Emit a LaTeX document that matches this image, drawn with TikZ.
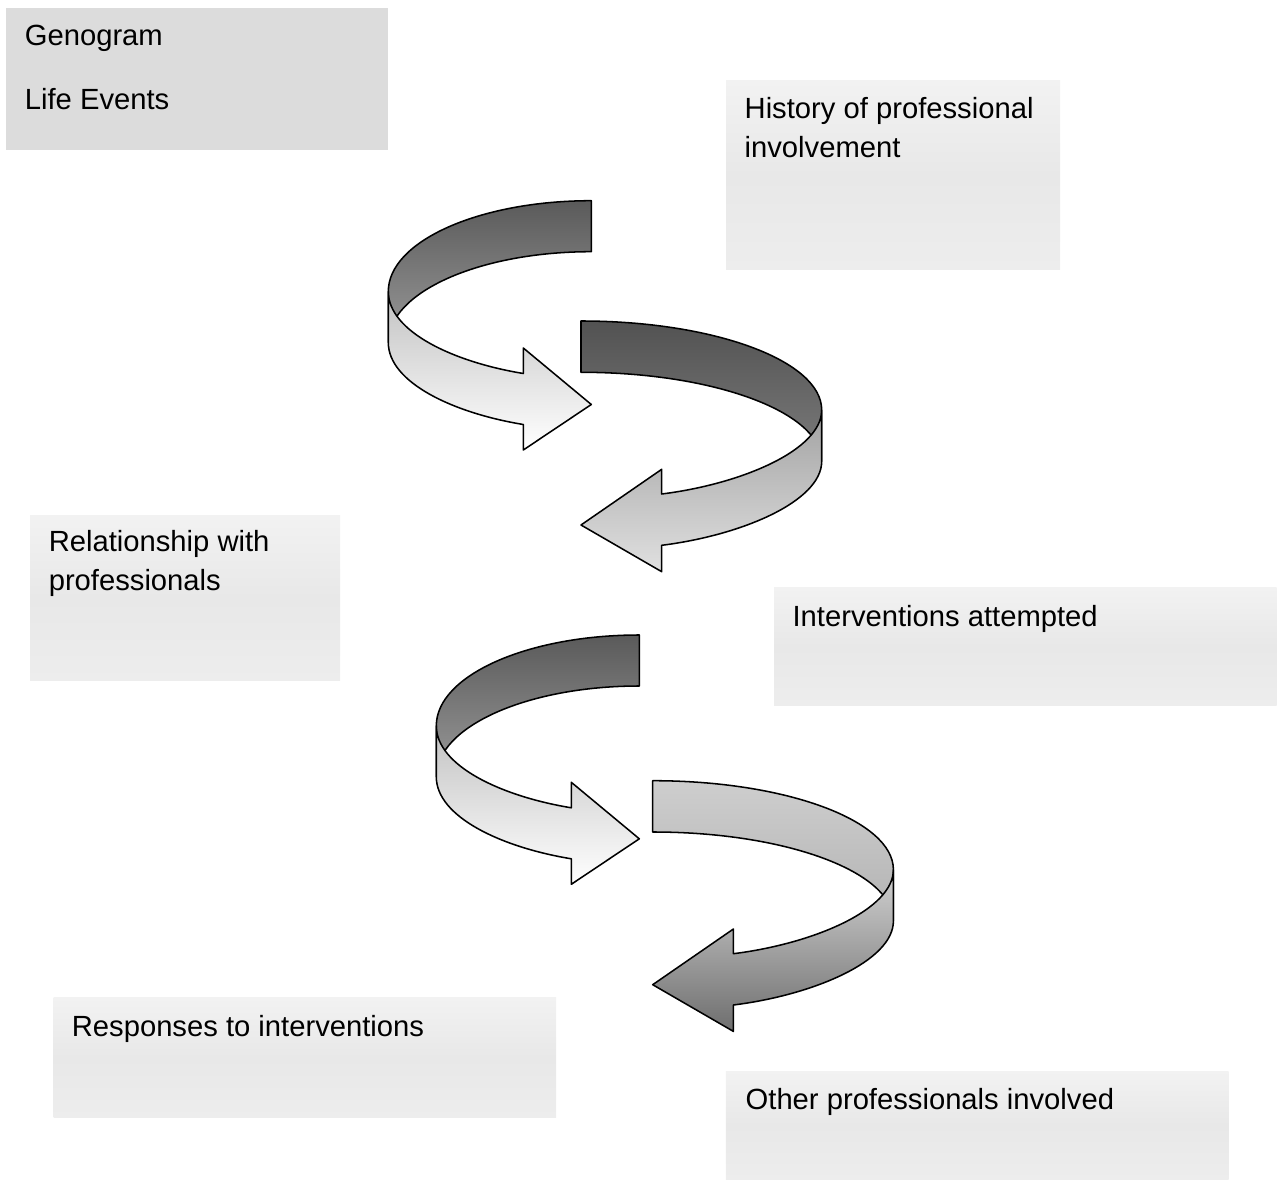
\documentclass[tikz,border=0pt]{standalone}
\usepackage{fontspec}
\setmainfont{Liberation Sans}
\usetikzlibrary{fit}
\definecolor{boxtop}{HTML}{F2F2F2}
\definecolor{boxmid}{HTML}{E8E8E8}
\definecolor{boxbot}{HTML}{EDEDED}
\definecolor{genofill}{HTML}{DCDCDC}
\definecolor{aBackTop}{HTML}{5A5A5A}
\definecolor{aBackBot}{HTML}{9A9A9A}
\definecolor{aFrontTop}{HTML}{C2C2C2}
\definecolor{aFrontBot}{HTML}{FFFFFF}
\definecolor{bBackTop}{HTML}{525252}
\definecolor{bBackBot}{HTML}{7C7C7C}
\definecolor{bFrontTop}{HTML}{A2A2A2}
\definecolor{bFrontBot}{HTML}{E0E0E0}
\definecolor{dBackTop}{HTML}{CECECE}
\definecolor{dBackBot}{HTML}{B2B2B2}
\definecolor{dFrontTop}{HTML}{D2D2D2}
\definecolor{dFrontBot}{HTML}{6E6E6E}
\tikzset{
  rib/.style={draw=black, line width=1.15pt, line join=round},
  box/.style={inner sep=0pt, outer sep=0pt, top color=boxtop, bottom color=boxbot, middle color=boxmid},
  genobox/.style={inner sep=0pt, outer sep=0pt, fill=genofill},
  lbl/.style={inner sep=0pt, anchor=base west, font=\fontsize{21.9}{29.2}\selectfont},
}
\def\backA{(591.3,200.7) .. controls (479.2,200.7) and (388.3,241.35) .. (388.3,291.5) -- (388.3,342.5) .. controls (388.3,292.35) and (479.2,251.7) .. (591.3,251.7) -- cycle}
\def\frontA{(388.3,291.5) -- (388.3,342.5) .. controls (388.3,382.5) and (453.3,413) .. (523.3,424.5) -- (523.3,450) -- (591.3,404.5) -- (523.3,348) -- (523.3,373.5) .. controls (453.3,362) and (388.3,331.5) .. (388.3,291.5) -- cycle}
\def\backB{(581,321) .. controls (713.9,321) and (821.7,360.8) .. (821.7,410) -- (821.7,461.3) .. controls (821.7,412.1) and (713.9,372.3) .. (581,372.3) -- cycle}
\def\frontB{(821.7,410) -- (821.7,461.3) .. controls (821.7,501.3) and (741.7,535.3) .. (661.7,545.3) -- (661.7,571.7) -- (581,525) -- (661.7,469.3) -- (661.7,494) .. controls (741.7,484) and (821.7,450) .. (821.7,410) -- cycle}
\begin{document}
\begin{tikzpicture}[x=0.75pt,y=-0.75pt]
\useasboundingbox (0,0) rectangle (1282,1180);

% boxes
\node[genobox, fit={(6,8.3) (387.7,150)}] (genbox) {};
\node[box, fit={(726,81) (1060,270)}] (histbox) {};
\node[box, fit={(30,515) (340,680.5)}] (relbox) {};
\node[box, fit={(774,587.3) (1276.5,705.7)}] (intbox) {};
\node[box, fit={(53.5,997.4) (556,1117)}] (respbox) {};
\node[box, fit={(725.8,1071) (1228.5,1180)}] (othbox) {};

% texts
\node[lbl] (gentext) at (24.6,45.7) {\vtop{\baselineskip=48.2pt\hbox{Genogram}\hbox{Life Events}}};
\node[lbl] (histtext) at (744.4,118.3) {\vtop{\baselineskip=29.2pt\hbox{History of professional}\hbox{involvement}}};
\node[lbl] (reltext) at (48.5,551.7) {\vtop{\baselineskip=28.8pt\hbox{Relationship with}\hbox{professionals}}};
\node[lbl] (inttext) at (792.3,626) {Interventions attempted};
\node[lbl] (resptext) at (71.6,1036.3) {Responses to interventions};
\node[lbl] (othtext) at (745.4,1109.5) {Other professionals involved};

% first pair of ribbon arrows
\path[rib, top color=aBackTop, bottom color=aBackBot] \backA;
\path[rib, top color=aFrontTop, bottom color=aFrontBot] \frontA;
\path[rib, top color=bBackTop, bottom color=bBackBot] \backB;
\path[rib, top color=bFrontTop, bottom color=bFrontBot] \frontB;

% second pair of ribbon arrows
\begin{scope}[shift={(48,434.3)}]
\path[rib, top color=aBackTop, bottom color=aBackBot] \backA;
\path[rib, top color=aFrontTop, bottom color=aFrontBot] \frontA;
\end{scope}
\begin{scope}[shift={(71.7,459.7)}]
\path[rib, top color=dBackTop, bottom color=dBackBot] \backB;
\path[rib, top color=dFrontTop, bottom color=dFrontBot] \frontB;
\end{scope}
\end{tikzpicture}
\end{document}
